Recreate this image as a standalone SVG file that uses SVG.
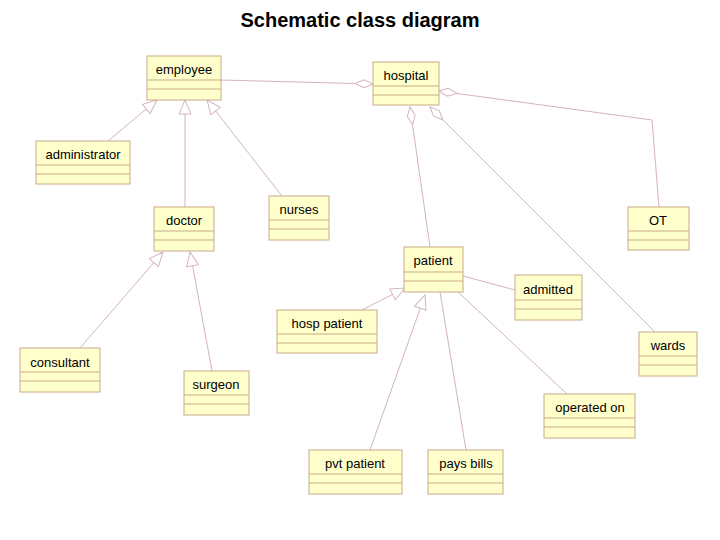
<svg xmlns="http://www.w3.org/2000/svg" width="720" height="540" viewBox="0 0 720 540">
<style>
.box{fill:#ffffcc;stroke:#c9a98a;stroke-width:1}
.t{font-family:"Liberation Sans",Arial,sans-serif;font-size:13px;fill:#000;text-anchor:middle}
.c{stroke:#d4b4bc;stroke-width:1;fill:none}
</style>
<defs>
<marker id="tri" markerUnits="userSpaceOnUse" markerWidth="16" markerHeight="14" viewBox="0 0 16 14" refX="15" refY="7" orient="auto"><path d="M1,1 L15,7 L1,13 Z" fill="#fff" stroke="#d4b4bc"/></marker>
<marker id="dia" markerUnits="userSpaceOnUse" markerWidth="20" markerHeight="10" viewBox="0 0 20 10" refX="19" refY="5" orient="auto"><path d="M1,5 L10,1 L19,5 L10,9 Z" fill="#fff" stroke="#d4b4bc"/></marker>
</defs>
<rect width="720" height="540" fill="#fff"/>
<text x="360" y="27" style="font-family:'Liberation Sans',Arial,sans-serif;font-size:20px;font-weight:bold;text-anchor:middle">Schematic class diagram</text>
<g id="connectors">
<path class="c" d="M221,80 L373,84" marker-end="url(#dia)"/>
<path class="c" d="M659,207 L652,120 L439,91" marker-end="url(#dia)"/>
<path class="c" d="M430,247 L410,107" marker-end="url(#dia)"/>
<path class="c" d="M655,332 L430,107" marker-end="url(#dia)"/>
<path class="c" d="M108,141 L157,100" marker-end="url(#tri)"/>
<path class="c" d="M185,207 L185,100" marker-end="url(#tri)"/>
<path class="c" d="M282,196 L207,100" marker-end="url(#tri)"/>
<path class="c" d="M80,348 L163,252" marker-end="url(#tri)"/>
<path class="c" d="M212,371 L190,252" marker-end="url(#tri)"/>
<path class="c" d="M362,310 L405,288" marker-end="url(#tri)"/>
<path class="c" d="M370,450 L425,295" marker-end="url(#tri)"/>
<path class="c" d="M463,276 L515,290"/>
<path class="c" d="M440,292 L466,450"/>
<path class="c" d="M458,292 L567,394"/>
</g>
<g id="employee"><rect class="box" x="147" y="56" width="74" height="44"/><path class="box" d="M147,80H221M147,89H221"/><text class="t" x="184" y="74">employee</text></g>
<g id="hospital"><rect class="box" x="373" y="62" width="66" height="43"/><path class="box" d="M373,86H439M373,95H439"/><text class="t" x="406" y="80">hospital</text></g>
<g id="administrator"><rect class="box" x="36" y="141" width="94" height="43"/><path class="box" d="M36,165H130M36,174H130"/><text class="t" x="83" y="159">administrator</text></g>
<g id="doctor"><rect class="box" x="154" y="207" width="60" height="44"/><path class="box" d="M154,231H214M154,240H214"/><text class="t" x="184" y="225">doctor</text></g>
<g id="nurses"><rect class="box" x="269" y="196" width="60" height="44"/><path class="box" d="M269,220H329M269,229H329"/><text class="t" x="299" y="214">nurses</text></g>
<g id="OT"><rect class="box" x="628" y="207" width="61" height="43"/><path class="box" d="M628,231H689M628,240H689"/><text class="t" x="658" y="225">OT</text></g>
<g id="patient"><rect class="box" x="404" y="247" width="59" height="45"/><path class="box" d="M404,272H463M404,281H463"/><text class="t" x="433" y="265">patient</text></g>
<g id="admitted"><rect class="box" x="515" y="275" width="67" height="45"/><path class="box" d="M515,300H582M515,309H582"/><text class="t" x="548" y="294">admitted</text></g>
<g id="hosp_patient"><rect class="box" x="277" y="310" width="100" height="43"/><path class="box" d="M277,334H377M277,343H377"/><text class="t" x="327" y="328">hosp patient</text></g>
<g id="consultant"><rect class="box" x="20" y="348" width="80" height="44"/><path class="box" d="M20,372H100M20,381H100"/><text class="t" x="60" y="367">consultant</text></g>
<g id="surgeon"><rect class="box" x="184" y="371" width="65" height="44"/><path class="box" d="M184,395H249M184,404H249"/><text class="t" x="216" y="389">surgeon</text></g>
<g id="wards"><rect class="box" x="639" y="332" width="58" height="44"/><path class="box" d="M639,356H697M639,365H697"/><text class="t" x="668" y="350">wards</text></g>
<g id="operated_on"><rect class="box" x="544" y="394" width="91" height="44"/><path class="box" d="M544,418H635M544,427H635"/><text class="t" x="590" y="412">operated on</text></g>
<g id="pvt_patient"><rect class="box" x="309" y="450" width="93" height="44"/><path class="box" d="M309,474H402M309,483H402"/><text class="t" x="355" y="468">pvt patient</text></g>
<g id="pays_bills"><rect class="box" x="428" y="450" width="75" height="44"/><path class="box" d="M428,474H503M428,483H503"/><text class="t" x="466" y="468">pays bills</text></g>
</svg>
